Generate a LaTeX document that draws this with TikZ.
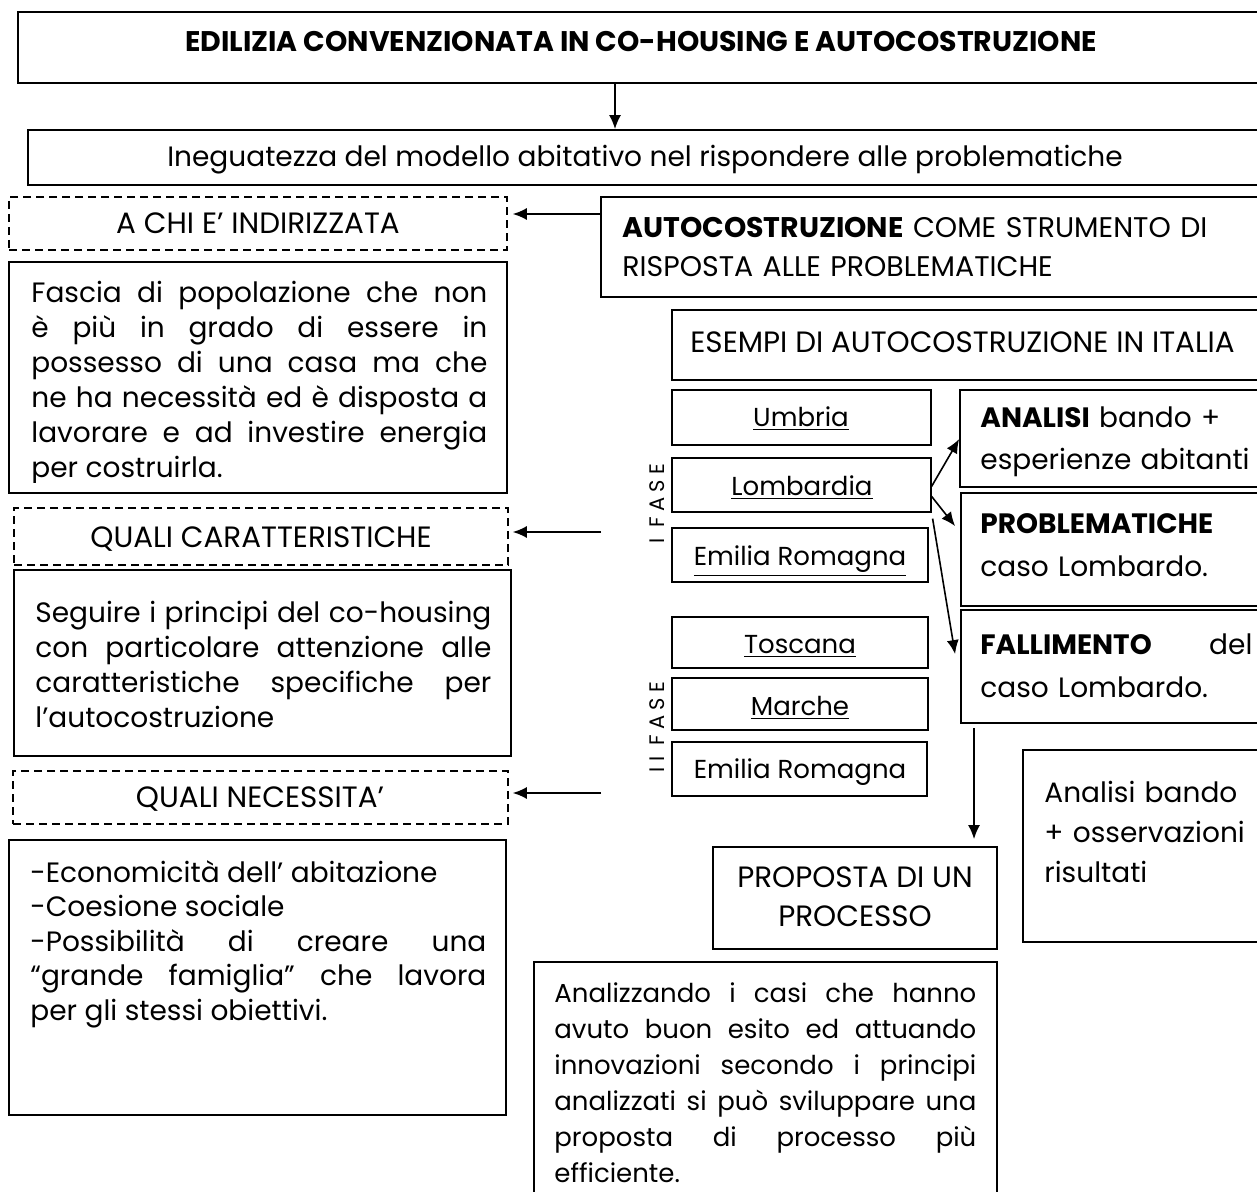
\documentclass[tikz,border=0pt]{standalone}
\usepackage{fontspec}
\setmainfont{Poppins}
\newfontfamily\phasefont[LetterSpace=25]{Poppins}
\usetikzlibrary{arrows.meta,fit,calc}

\begin{document}
\begin{tikzpicture}[x=0.5pt,y=-0.5pt,
  box/.style={draw, line width=0.9pt, inner sep=0pt},
  thinbox/.style={draw, line width=0.6pt, inner sep=0pt},
  dbox/.style={draw, line width=0.8pt, dash pattern=on 4pt off 2.5pt, inner sep=0pt},
  arr/.style={line width=0.8pt, -{Latex[length=7pt,width=6pt]}},
  lbl/.style={inner sep=0pt, anchor=base, font=\fontsize{14}{16}\selectfont},
  caps/.style={lbl, font=\fontsize{14.7}{16}\selectfont},
  region/.style={lbl, font=\fontsize{13}{15}\selectfont},
  para/.style={inner sep=0pt, anchor=north west, align=justify, text width=#1},
  phase/.style={inner sep=0pt, rotate=90, font=\phasefont\fontsize{10.5}{10.5}\selectfont},
]
\clip (0,0) rectangle (1257,1192);
\hyphenpenalty=10000 \exhyphenpenalty=10000 \tolerance=9999 \emergencystretch=20pt

% ---- top headings
\node[box, line width=1pt, fit={(18,12) (1280,83)}] (title) {};
\node[lbl, font=\fontsize{14.2}{16}\selectfont\bfseries] (titlet) at (641,52)
  {EDILIZIA CONVENZIONATA IN CO-HOUSING E AUTOCOSTRUZIONE};
\node[box, fit={(28,130) (1280,185)}] (ineg) {};
\node[lbl] (inegt) at (645,167)
  {Ineguatezza del modello abitativo nel rispondere alle problematiche};
\draw[arr] (title.south -| 615,0) -- (ineg.north -| 615,0);

% ---- left column: questions and answers
\node[dbox, fit={(9,197) (507,250)}] (chi) {};
\node[caps] (chit) at (258,234) {A CHI E’ INDIRIZZATA};
\node[box, fit={(9,262) (507,493)}] (fascia) {};
\begin{scope}
  \clip (9,262) rectangle (507,482);
  \node[para=228pt, font=\fontsize{14}{17.5}\selectfont] (fasciat) at (31,278)
    {\strut Fascia di popolazione che non\linebreak
     è più in grado di essere in\linebreak
     possesso di una casa ma che\linebreak
     ne ha necessità ed è disposta a\linebreak
     lavorare e ad investire energia\linebreak
     per costruirla.};
\end{scope}

\node[dbox, fit={(14,508) (508,565)}] (car) {};
\node[caps] (cart) at (261,547) {QUALI CARATTERISTICHE};
\node[thinbox, fit={(14,570) (511,756)}] (seg) {};
\node[para=228pt, font=\fontsize{14}{17.6}\selectfont] (segt) at (35,597)
  {\strut Seguire i principi del co-housing\linebreak
   con particolare attenzione alle\linebreak
   caratteristiche specifiche per\linebreak
   l’autocostruzione};

\node[dbox, fit={(13,771) (508,824)}] (nec) {};
\node[caps] (nect) at (260,807) {QUALI NECESSITA’};
\node[box, fit={(9,840) (506,1115)}] (eco) {};
\node[para=228pt, font=\fontsize{14}{17.2}\selectfont] (ecot) at (30,858)
  {\strut -Economicità dell’ abitazione\newline
   -Coesione sociale\newline
   -Possibilità di creare una\linebreak
   “grande famiglia” che lavora\linebreak
   per gli stessi obiettivi.};

% ---- right column
\node[box, fit={(601,197) (1280,297)}] (auto) {};
\node[para=340pt, align=left, font=\fontsize{14.2}{19.5}\selectfont] (autot) at (622,210)
  {\strut\textbf{AUTOCOSTRUZIONE} COME STRUMENTO DI\\
   RISPOSTA ALLE PROBLEMATICHE};
\node[box, fit={(672,310) (1280,380)}] (esempi) {};
\node[caps, anchor=base west] (esempit) at (690,352) {ESEMPI DI AUTOCOSTRUZIONE IN ITALIA};

\node[thinbox, fit={(672,390) (931,445)}] (umb) {};
\node[region] (umbt) at (801,426.5) {\underline{Umbria}};
\node[thinbox, fit={(672,458) (931,512)}] (lomb) {};
\node[region] (lombt) at (802,495.5) {\underline{Lombardia}};
\node[thinbox, fit={(672,528) (928,582)}] (emr) {};
\node[region] (emrt) at (800,565.5) {\underline{Emilia Romagna}};
\node[thinbox, fit={(672,617) (928,668)}] (tos) {};
\node[region] (tost) at (800,653.5) {\underline{Toscana}};
\node[thinbox, fit={(672,678) (928,730)}] (mar) {};
\node[region] (mart) at (800,715.5) {\underline{Marche}};
\node[thinbox, fit={(672,742) (927,796)}] (emr2) {};
\node[region] (emr2t) at (800,778.5) {Emilia Romagna};

\node[phase] (fase1) at (657,504) {I FASE};
\node[phase] (fase2) at (657,727) {II FASE};

\node[box, fit={(960,390) (1280,487)}] (analisi) {};
\node[para=150pt, align=left, font=\fontsize{14}{21}\selectfont] (analisit) at (980,398)
  {\strut\textbf{ANALISI} bando +\\ esperienze abitanti};
\node[box, fit={(961,493) (1280,606)}] (probl) {};
\node[para=150pt, align=left, font=\fontsize{14}{21.5}\selectfont] (problt) at (980,503)
  {\strut\textbf{PROBLEMATICHE}\\ caso Lombardo.};
\node[box, fit={(961,610) (1280,723)}] (fall) {};
\node[para=136pt, align=left, font=\fontsize{14}{21.5}\selectfont] (fallt) at (980,624)
  {\strut\textbf{FALLIMENTO}\hfill del\\ caso Lombardo.};

\node[thinbox, fit={(1023,750) (1280,942)}] (oss) {};
\node[para=110pt, align=left, font=\fontsize{14}{20}\selectfont] (osst) at (1044,774)
  {\strut Analisi bando\\ + osservazioni\\ risultati};

\node[box, fit={(713,847) (997,949)}] (prop) {};
\node[inner sep=0pt, anchor=north, align=center, font=\fontsize{14.7}{19.5}\selectfont] (propt) at (855,860)
  {\strut PROPOSTA DI UN\\ PROCESSO};

\node[thinbox, fit={(534,962) (997,1210)}] (anal) {};
\node[para=211pt, font=\fontsize{13}{18}\selectfont] (analt) at (554,977)
  {\strut Analizzando i casi che hanno\linebreak
   avuto buon esito ed attuando\linebreak
   innovazioni secondo i principi\linebreak
   analizzati si può sviluppare una\linebreak
   proposta di processo più\linebreak
   efficiente.};

% ---- connectors
\draw[arr] (auto.west |- 0,214) -- ($(chi.east |- 0,214)+(5,0)$);
\coordinate (carsrc) at (601,532);
\draw[arr] (carsrc) -- ($(car.east |- carsrc)+(4,0)$);
\coordinate (necsrc) at (601,793);
\draw[arr] (necsrc) -- ($(nec.east |- necsrc)+(4,0)$);

\draw[arr] ($(lomb.north east)+(0,29)$) -- ($(analisi.north west)+(0,50)$);
\draw[arr] ($(lomb.north east)+(0,39)$) -- ($(probl.north west)+(-5,34)$);
\draw[arr] ($(lomb.south east)+(1,6)$) -- ($(fall.north west)+(-5,45)$);

\coordinate (vsrc) at (974,728);
\draw[arr] (vsrc) -- ($(prop.north -| vsrc)+(0,-7)$);
\end{tikzpicture}
\end{document}
